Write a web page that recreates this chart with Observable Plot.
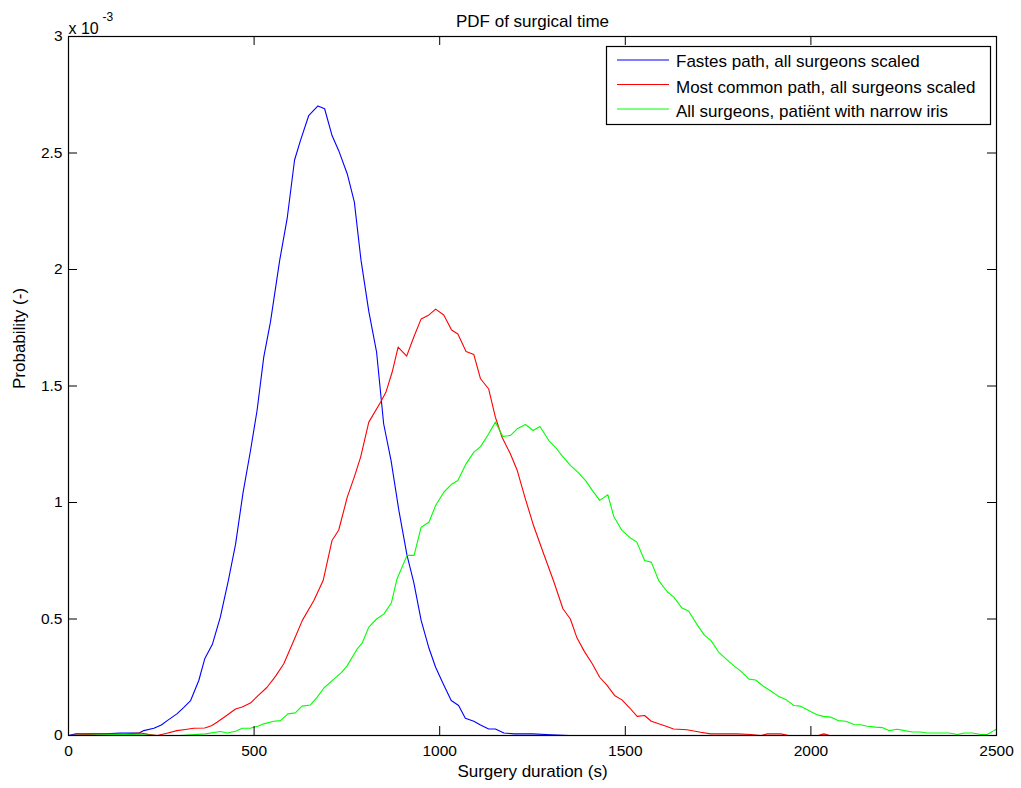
<!DOCTYPE html>
<html>
<head>
<meta charset="utf-8">
<script src="https://cdn.jsdelivr.net/npm/d3@7"></script>
<script src="https://cdn.jsdelivr.net/npm/@observablehq/plot@0.6"></script>
<style>
  html, body { margin: 0; padding: 0; background: #fff; }
  #chart { width: 1021px; height: 788px; }
</style>
</head>
<body>
<div id="chart"></div>
<script>
// Probability values are in units of 10^-3
const seriesNames = [
  "Fastes path, all surgeons scaled",
  "Most common path, all surgeons scaled",
  "All surgeons, patiënt with narrow iris"
];
const seriesColors = ["#0000ff", "#ff0000", "#00ff00"];

const fastestX = [0,20,60,100,140,190,203,230,250,266,292,310,329,351,367,388,409,430,450,470,490,508,526,544,569,589,609,625,647,672,690,710,728,751,770,788,809,830,849,869,890,912,930,950,970,989,1010,1031,1051,1069,1092,1110,1132,1150,1173,1200,1250,1300,1350,2500];
const fastestY = [0,0.007,0.007,0.007,0.011,0.011,0.021,0.031,0.045,0.064,0.093,0.12,0.150,0.236,0.329,0.393,0.508,0.66,0.82,1.04,1.22,1.395,1.624,1.774,2.04,2.218,2.47,2.554,2.66,2.702,2.69,2.575,2.51,2.41,2.29,2.04,1.82,1.645,1.338,1.18,0.966,0.773,0.658,0.494,0.38,0.293,0.22,0.150,0.129,0.074,0.061,0.045,0.028,0.028,0.011,0.007,0.007,0.003,0,0];

const commonX = [0,86,150,194,215,239,265,292,315,337,367,385,400,425,450,468,490,510,535,558,580,607,630,661,686,710,728,751,770,787,809,841,855,872,888,911,930,950,971,989,1011,1032,1049,1071,1092,1110,1132,1150,1168,1190,1209,1230,1253,1280,1307,1332,1352,1370,1390,1411,1431,1451,1471,1491,1512,1532,1552,1570,1590,1610,1630,1666,1703,1730,1760,1800,1838,1865,1883,1919,1940,2020,2035,2050,2500];
const commonY = [0,0.007,0.007,0.011,0.005,0,0.01,0.021,0.026,0.031,0.032,0.042,0.057,0.085,0.114,0.122,0.139,0.17,0.207,0.255,0.308,0.408,0.494,0.579,0.665,0.837,0.882,1.023,1.11,1.195,1.345,1.431,1.473,1.56,1.667,1.628,1.709,1.788,1.805,1.83,1.805,1.74,1.723,1.648,1.635,1.531,1.487,1.366,1.28,1.21,1.137,1.02,0.9,0.78,0.662,0.544,0.50,0.418,0.36,0.308,0.250,0.215,0.172,0.153,0.118,0.082,0.086,0.061,0.05,0.04,0.028,0.025,0.014,0.007,0.007,0.007,0.004,0,0.007,0.007,0,0,0.007,0,0];

const narrowX = [0,100,150,200,239,300,369,409,428,450,468,490,510,526,553,571,591,611,629,652,670,688,715,735,751,778,791,809,830,850,870,885,912,931,950,971,989,1011,1031,1049,1071,1092,1110,1130,1150,1170,1191,1210,1231,1252,1270,1294,1312,1330,1352,1372,1393,1412,1431,1453,1469,1491,1512,1531,1552,1570,1590,1613,1630,1653,1671,1692,1713,1731,1752,1772,1792,1812,1833,1851,1873,1891,1914,1932,1954,1972,1994,2015,2033,2053,2073,2094,2116,2134,2152,2174,2192,2210,2233,2252,2273,2295,2313,2350,2372,2395,2413,2435,2458,2475,2493,2500];
const narrowY = [0,0.003,0.005,0.003,0,0,0.007,0.017,0.011,0.018,0.031,0.031,0.04,0.05,0.061,0.064,0.093,0.097,0.126,0.131,0.165,0.204,0.242,0.27,0.30,0.372,0.396,0.465,0.5,0.522,0.57,0.672,0.773,0.773,0.894,0.915,0.987,1.044,1.077,1.094,1.166,1.216,1.24,1.29,1.345,1.283,1.288,1.318,1.335,1.309,1.326,1.266,1.237,1.2,1.159,1.13,1.094,1.05,1.009,1.033,0.94,0.88,0.85,0.83,0.751,0.744,0.665,0.617,0.595,0.547,0.533,0.479,0.431,0.407,0.357,0.328,0.30,0.275,0.242,0.238,0.21,0.192,0.167,0.155,0.129,0.126,0.107,0.09,0.082,0.079,0.064,0.061,0.047,0.046,0.04,0.036,0.034,0.021,0.027,0.021,0.015,0.015,0.011,0.011,0.011,0.004,0.011,0.011,0.004,0.004,0.021,0.028];

const xTicks = [0, 500, 1000, 1500, 2000, 2500];
const xTickLabels = ["0", "500", "1000", "1500", "2000", "2500"];
const yTicks = [0, 0.5, 1, 1.5, 2, 2.5, 3];
const yTickLabels = ["0", "0.5", "1", "1.5", "2", "2.5", "3"];

const toRows = (xs, ys, s) => xs.map((x, i) => ({x, y: ys[i], s}));
const rows = [
  ...toRows(fastestX, fastestY, seriesNames[0]),
  ...toRows(commonX, commonY, seriesNames[1]),
  ...toRows(narrowX, narrowY, seriesNames[2])
];

const W = 1021, H = 788, mT = 36, mB = 53, mL = 68, mR = 25;
const frameH = H - mT - mB;
const frameW = W - mL - mR;
const tickLen = 9;
const FONT = "'Liberation Sans', Arial, sans-serif";

const chart = Plot.plot({
  width: W, height: H,
  marginTop: mT, marginBottom: mB, marginLeft: mL, marginRight: mR,
  style: {fontFamily: FONT, fontSize: "15px", color: "#000", background: "#fff"},
  x: {domain: [0, 2500]},
  y: {domain: [0, 3]},
  color: {domain: seriesNames, range: seriesColors},
  marks: [
    Plot.line(rows, {x: "x", y: "y", z: "s", stroke: "s", strokeWidth: 1.1}),
    Plot.frame({stroke: "#000", strokeWidth: 1.2}),
    // inward ticks on all four sides
    Plot.tickX(xTicks, {x: d => d, insetTop: frameH - tickLen, stroke: "#000"}),
    Plot.tickX(xTicks, {x: d => d, insetBottom: frameH - tickLen, stroke: "#000"}),
    Plot.tickY(yTicks, {y: d => d, insetRight: frameW - tickLen, stroke: "#000"}),
    Plot.tickY(yTicks, {y: d => d, insetLeft: frameW - tickLen, stroke: "#000"}),
    Plot.axisX(xTicks, {tickSize: 0, tickPadding: 9, fontSize: 15.5, label: null,
      tickFormat: d => xTickLabels[xTicks.indexOf(d)]}),
    Plot.axisY(yTicks, {tickSize: 0, tickPadding: 6, fontSize: 15.5, label: null,
      tickFormat: d => yTickLabels[yTicks.indexOf(d)]}),
    Plot.text(["PDF of surgical time"], {frameAnchor: "top", dy: -22, fontSize: 17}),
    Plot.text(["Surgery duration (s)"], {frameAnchor: "bottom", dy: 41, fontSize: 17}),
    Plot.text(["Probability (-)"], {frameAnchor: "left", dx: -49, dy: 3, rotate: -90, fontSize: 17}),
    Plot.text(["x 10"], {frameAnchor: "top-left", textAnchor: "start", dy: -14, dx: 0, fontSize: 16}),
    Plot.text(["-3"], {frameAnchor: "top-left", textAnchor: "start", dy: -24, dx: 34, fontSize: 12})
  ]
});

// MATLAB-style legend box
const svg = d3.select(chart);
const lg = svg.append("g").attr("font-family", FONT).attr("font-size", 17).attr("text-anchor", "start");
lg.append("rect").attr("x", 606.5).attr("y", 46.5).attr("width", 384).attr("height", 78)
  .attr("fill", "#fff").attr("stroke", "#000").attr("stroke-width", 1.2);
const lineY = [60, 84.5, 109];
const textY = [67.3, 93.3, 116.7];
seriesNames.forEach((name, i) => {
  lg.append("line").attr("x1", 617).attr("x2", 669).attr("y1", lineY[i]).attr("y2", lineY[i])
    .attr("stroke", seriesColors[i]).attr("stroke-width", 1.1);
  lg.append("text").attr("x", 676).attr("y", textY[i]).attr("text-anchor", "start").attr("fill", "#000").text(name);
});

document.getElementById("chart").appendChild(chart);
</script>
</body>
</html>
